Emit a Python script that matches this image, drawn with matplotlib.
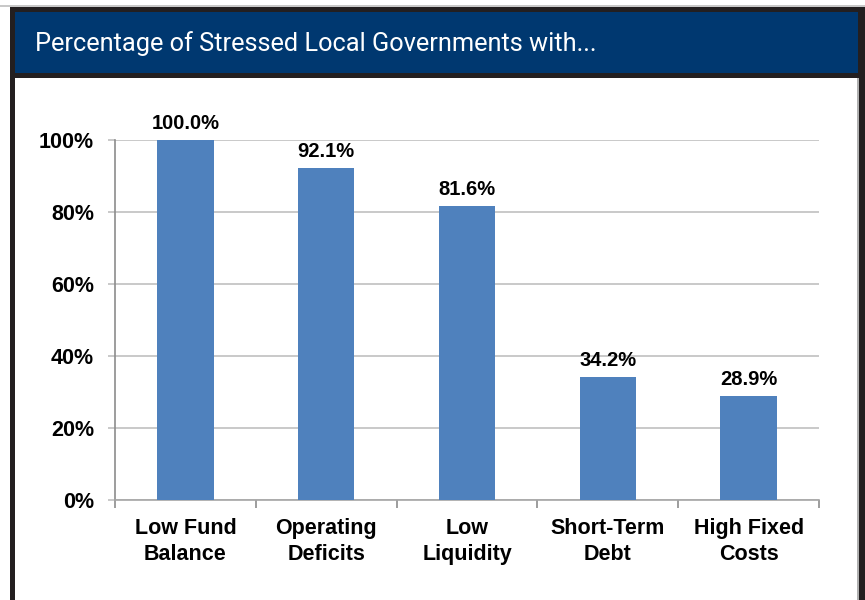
import matplotlib.pyplot as plt
from matplotlib.patches import Rectangle
import numpy as np

# dados
categorias = ['Low Fund\nBalance', 'Operating\nDeficits', 'Low\nLiquidity',
              'Short-Term\nDebt', 'High Fixed\nCosts']
valores = [100.0, 92.1, 81.6, 34.2, 28.9]
rotulos_y = ['0%', '20%', '40%', '60%', '80%', '100%']
titulo = 'Percentage of Stressed Local Governments with...'

W, H = 865, 600
fig = plt.figure(figsize=(W / 100, H / 100), dpi=100)


def px(x0, y0, x1, y1):
    # retângulo em pixels -> coordenadas da figura
    return (x0 / W, 1 - y1 / H), (x1 - x0) / W, (y1 - y0) / H


def ret(x0, y0, x1, y1, cor):
    xy, w, h = px(x0, y0, x1, y1)
    fig.patches.append(Rectangle(xy, w, h, transform=fig.transFigure,
                                 facecolor=cor, edgecolor='none', zorder=0))


# moldura e barra do título
ret(0, 5, 865, 7, '#c8c8c8')
ret(10, 7, 865, 78, '#231f20')
ret(15, 12, 858, 73, '#003870')
ret(10, 78, 15, 600, '#231f20')
ret(859, 78, 865, 600, '#231f20')
ret(857, 78, 859, 600, '#b0b0b0')

fig.text(35 / W, 1 - 44 / H, titulo, color='white', fontsize=18.3,
         family=['Roboto', 'DejaVu Sans'], va='center', ha='left')

fonte = 'Liberation Sans'
cinza_grade = '#c0c0c0'
cinza_eixo = '#8c8c8c'

ax = fig.add_axes([115 / W, 100 / H, (819 - 115) / W, 360 / H])
x = np.arange(len(categorias))
ax.bar(x, valores, width=0.4, color='#4f81bd', zorder=3)
ax.set_xlim(-0.5, len(categorias) - 0.5)
ax.set_ylim(0, 100)

for xi, v in zip(x, valores):
    ax.text(xi, v + 2.0, f'{v:.1f}%', ha='center', va='bottom',
            fontsize=14.5, fontweight='bold', family=fonte)

ax.set_yticks(np.arange(0, 101, 20))
ax.set_yticklabels(rotulos_y, fontsize=15.5, fontweight='bold', family=fonte)
ax.set_xticks(x)
ax.set_xticklabels(categorias, fontsize=15.5, fontweight='bold', family=fonte,
                   linespacing=1.3)
ax.set_xticks(np.arange(-0.5, len(categorias)), minor=True)
ax.tick_params(axis='x', which='major', length=0, pad=13)
ax.tick_params(axis='x', which='minor', length=6, color=cinza_eixo, width=1.2)
ax.tick_params(axis='y', length=5, color=cinza_grade, width=1.2, pad=10)

ax.grid(axis='y', color=cinza_grade, linewidth=1.2, zorder=0)
for s in ['top', 'right']:
    ax.spines[s].set_visible(False)
ax.spines['left'].set_color(cinza_eixo)
ax.spines['bottom'].set_color('#a6a6a6')
for s in ['left', 'bottom']:
    ax.spines[s].set_linewidth(1.2)

plt.savefig('out.png', dpi=100)
